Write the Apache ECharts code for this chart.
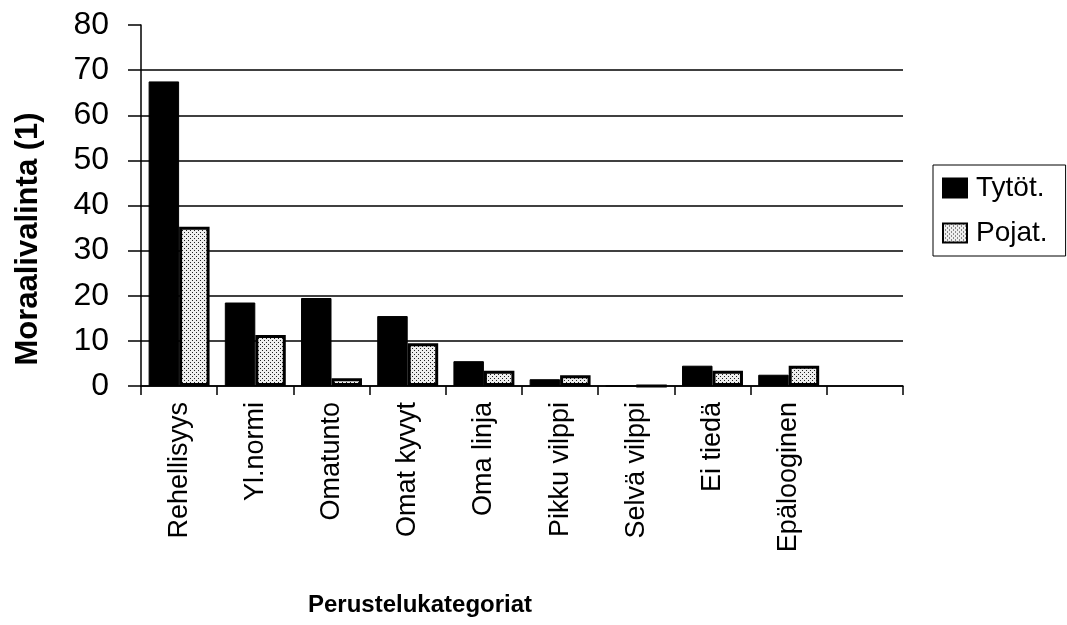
<!DOCTYPE html>
<html>
<head>
<meta charset="utf-8">
<script src="https://cdn.jsdelivr.net/npm/echarts@6/dist/echarts.min.js"></script>
<style>
  html, body { margin: 0; padding: 0; background: #fff; }
  #chart { width: 1067px; height: 625px; }
</style>
</head>
<body>
<div id="chart"></div>
<script>
// data
var categories = ['Rehellisyys', 'Yl.normi', 'Omatunto', 'Omat kyvyt', 'Oma linja', 'Pikku vilppi', 'Selvä vilppi', 'Ei tiedä', 'Epälooginen', ''];
var tytot = [67.5, 18.5, 19.5, 15.5, 5.5, 1.5, 0, 4.5, 2.5, null];
var pojat = [35.3, 11.3, 1.7, 9.5, 3.4, 2.4, 0, 3.4, 4.5, null];
var yTicks = [0, 10, 20, 30, 40, 50, 60, 70, 80];

// dotted fill like the printed original
function dotPattern() {
    var c = document.createElement('canvas');
    c.width = 4;
    c.height = 4;
    var ctx = c.getContext('2d');
    ctx.fillStyle = '#eeeeee';
    ctx.fillRect(0, 0, 4, 4);
    ctx.fillStyle = '#222';
    ctx.fillRect(0, 0, 1, 1);
    ctx.fillRect(2, 2, 1, 1);
    return c;
}

var font = 'Liberation Sans, Arial, sans-serif';
var chart = echarts.init(document.getElementById('chart'));

// gridline at every tick except the top one
var gridColors = yTicks.map(function (t, i) {
    return i === yTicks.length - 1 ? 'rgba(0,0,0,0)' : '#000';
});

var option = {
    backgroundColor: '#fff',
    animation: false,
    title: {
        text: 'Perustelukategoriat',
        left: 303,
        top: 588,
        textStyle: { fontFamily: font, fontSize: 24, fontWeight: 'bold', color: '#000' }
    },
    // y axis title sits lower than the axis middle in the original
    graphic: [{
        type: 'text',
        x: 28,
        y: 239,
        rotation: Math.PI / 2,
        style: {
            text: 'Moraalivalinta (1)',
            fontFamily: font,
            fontSize: 31,
            fontWeight: 'bold',
            fill: '#000',
            align: 'center',
            verticalAlign: 'middle'
        }
    }],
    legend: {
        orient: 'vertical',
        left: 933,
        top: 165,
        padding: [9, 18, 9, 9],
        borderColor: '#000',
        borderWidth: 1,
        itemWidth: 24,
        itemHeight: 19,
        itemGap: 17,
        icon: 'rect',
        textStyle: { fontFamily: font, fontSize: 28, color: '#000', padding: [0, 0, 0, 4] },
        data: ['Tytöt.', 'Pojat.']
    },
    grid: {
        left: 141,
        right: 164,
        top: 25,
        bottom: 239
    },
    xAxis: {
        type: 'category',
        data: categories,
        axisLine: { lineStyle: { color: '#000', width: 1.5 } },
        axisTick: { show: true, length: 9, lineStyle: { color: '#000', width: 1.5 } },
        axisLabel: {
            rotate: 90,
            interval: 0,
            margin: 16,
            fontFamily: font,
            fontSize: 27,
            color: '#000'
        }
    },
    yAxis: {
        type: 'value',
        min: 0,
        max: 80,
        interval: 10,
        axisLine: { show: true, lineStyle: { color: '#000', width: 1.5 } },
        axisTick: { show: true, length: 13, lineStyle: { color: '#000', width: 1.5 } },
        axisLabel: {
            margin: 32,
            fontFamily: font,
            fontSize: 32,
            color: '#000'
        },
        splitLine: { show: true, lineStyle: { color: gridColors, width: 1.5 } }
    },
    series: [
        {
            name: 'Tytöt.',
            type: 'bar',
            data: tytot,
            barGap: '0%',
            barCategoryGap: '20%',
            itemStyle: { color: '#000', borderColor: '#000', borderWidth: 1 }
        },
        {
            name: 'Pojat.',
            type: 'bar',
            data: pojat,
            itemStyle: {
                color: { image: dotPattern(), repeat: 'repeat' },
                borderColor: '#000',
                borderWidth: 3
            }
        }
    ]
};

chart.setOption(option);
</script>
</body>
</html>
